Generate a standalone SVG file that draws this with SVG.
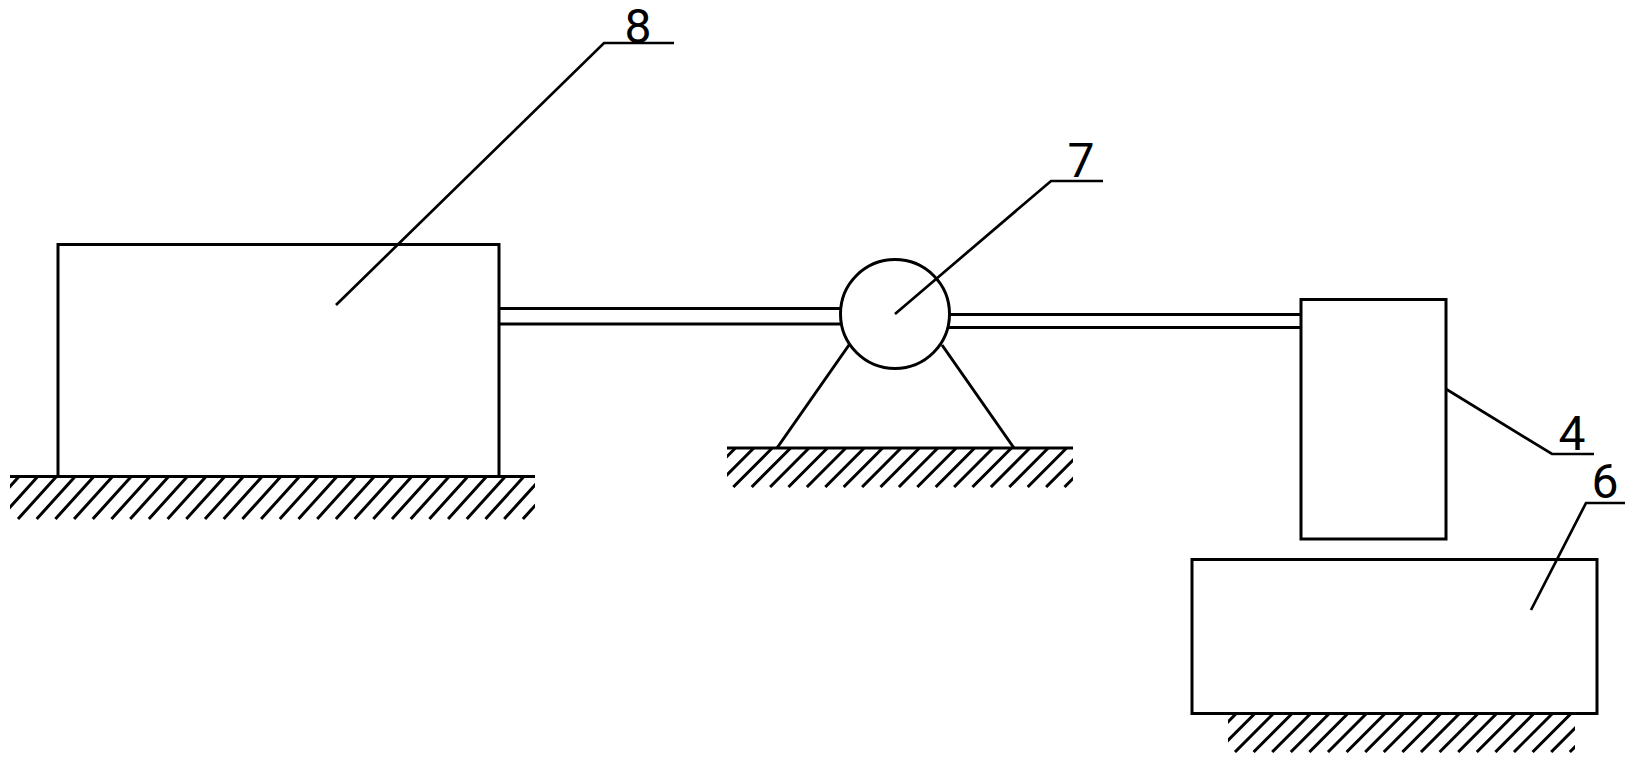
<svg xmlns="http://www.w3.org/2000/svg" width="1636" height="762" viewBox="0 0 1636 762">
<style>
.s{fill:none;stroke:#000;stroke-width:3}
.l{fill:none;stroke:#000;stroke-width:2.7}
.h{fill:none;stroke:#000;stroke-width:3}
.t{font-family:Roboto,"Liberation Sans",sans-serif;font-weight:400;font-size:48px;fill:#000;text-anchor:middle}
</style>
<defs>
<clipPath id="c1"><rect x="10" y="477" width="525" height="44"/></clipPath>
<clipPath id="c2"><rect x="727" y="448" width="346" height="40"/></clipPath>
<clipPath id="c3"><rect x="1228" y="714" width="347" height="39"/></clipPath>
</defs>
<rect width="1636" height="762" fill="#fff"/>
<g id="connectors">
<path class="s" d="M499 308.5H841M499 324H841"/>
<path class="s" d="M949 314.5H1301M949 327.5H1301"/>
<path class="s" d="M849 345L777 448M942 345L1014 448"/>
<path class="l" d="M336 305L604 43H674"/>
<path class="l" d="M895 314L1051 181H1103"/>
<path class="l" d="M1446 389L1552 454H1594"/>
<path class="l" d="M1531 610L1586 503H1625"/>
</g>
<g id="ground-1">
<path class="s" d="M10 476.5H535"/>
<path class="h" clip-path="url(#c1)" d="M-19.4 519l38-42m-19.3 42l38-42m-19.3 42l38-42m-19.3 42l38-42m-19.3 42l38-42m-19.3 42l38-42m-19.3 42l38-42m-19.3 42l38-42m-19.3 42l38-42m-19.3 42l38-42m-19.3 42l38-42m-19.3 42l38-42m-19.3 42l38-42m-19.3 42l38-42m-19.3 42l38-42m-19.3 42l38-42m-19.3 42l38-42m-19.3 42l38-42m-19.3 42l38-42m-19.3 42l38-42m-19.3 42l38-42m-19.3 42l38-42m-19.3 42l38-42m-19.3 42l38-42m-19.3 42l38-42m-19.3 42l38-42m-19.3 42l38-42m-19.3 42l38-42m-19.3 42l38-42m-19.3 42l38-42"/>
</g>
<g id="ground-2">
<path class="s" d="M727 448H1073"/>
<path class="h" clip-path="url(#c2)" d="M696.5 487l38.7-38.7m-20.3 38.7l38.7-38.7m-20.3 38.7l38.7-38.7m-20.3 38.7l38.7-38.7m-20.3 38.7l38.7-38.7m-20.3 38.7l38.7-38.7m-20.3 38.7l38.7-38.7m-20.3 38.7l38.7-38.7m-20.3 38.7l38.7-38.7m-20.3 38.7l38.7-38.7m-20.3 38.7l38.7-38.7m-20.3 38.7l38.7-38.7m-20.3 38.7l38.7-38.7m-20.3 38.7l38.7-38.7m-20.3 38.7l38.7-38.7m-20.3 38.7l38.7-38.7m-20.3 38.7l38.7-38.7m-20.3 38.7l38.7-38.7m-20.3 38.7l38.7-38.7m-20.3 38.7l38.7-38.7m-20.3 38.7l38.7-38.7"/>
</g>
<g id="ground-3">
<path class="h" clip-path="url(#c3)" d="M1197.8 752l38-38m-19.4 38l38-38m-19.4 38l38-38m-19.4 38l38-38m-19.4 38l38-38m-19.4 38l38-38m-19.4 38l38-38m-19.4 38l38-38m-19.4 38l38-38m-19.4 38l38-38m-19.4 38l38-38m-19.4 38l38-38m-19.4 38l38-38m-19.4 38l38-38m-19.4 38l38-38m-19.4 38l38-38m-19.4 38l38-38m-19.4 38l38-38m-19.4 38l38-38m-19.4 38l38-38m-19.4 38l38-38"/>
</g>
<g id="node-8">
<rect class="s" x="58" y="244.5" width="441" height="232"/>
<text class="t" x="638" y="43">8</text>
</g>
<g id="node-7">
<circle class="s" cx="895" cy="314" r="54.5"/>
<text class="t" x="1081" y="177">7</text>
</g>
<g id="node-4">
<rect class="s" x="1301" y="299.5" width="145" height="239.5"/>
<text class="t" x="1572" y="450">4</text>
</g>
<g id="node-6">
<rect class="s" x="1192" y="559.5" width="405" height="154"/>
<text class="t" x="1605" y="498">6</text>
</g>
</svg>
